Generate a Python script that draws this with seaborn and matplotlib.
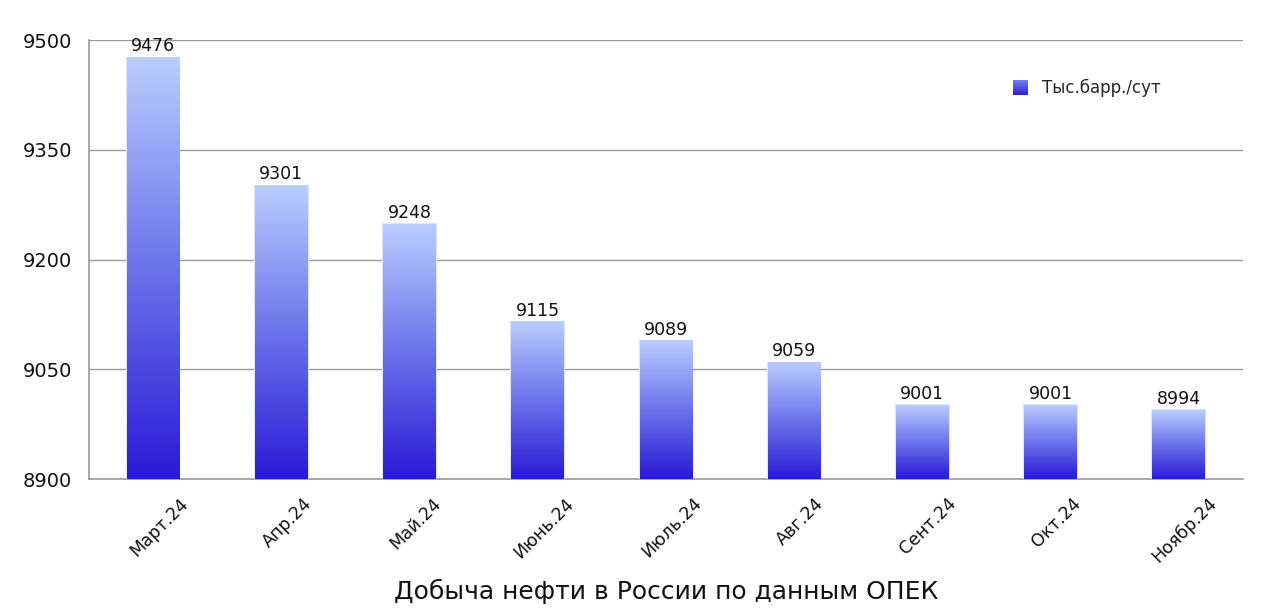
import numpy as np
import pandas as pd
import matplotlib
matplotlib.use("Agg")
import matplotlib.pyplot as plt
import matplotlib.transforms as mtransforms
import seaborn as sns
from matplotlib.colors import LinearSegmentedColormap
from matplotlib.patches import Patch, Rectangle
from matplotlib.legend_handler import HandlerBase

months = ["Март.24", "Апр.24", "Май.24", "Июнь.24", "Июль.24", "Авг.24", "Сент.24", "Окт.24", "Ноябр.24"]
values = [9476, 9301, 9248, 9115, 9089, 9059, 9001, 9001, 8994]
yticks = [8900, 9050, 9200, 9350, 9500]
series_name = "Тыс.барр./сут"
title = "Добыча нефти в России по данным ОПЕК"

sns.set_theme(style="white")
plt.rcParams['font.family'] = ['DejaVu Sans']

df = pd.DataFrame({"month": months, "value": values})

fig = plt.figure(figsize=(12.8, 6.16), dpi=100)
ax = fig.add_axes([0.0695, 0.2224, 0.9015, 0.7126])

YMIN, YMAX = 8900, 9500
sns.barplot(data=df, x="month", y="value", color="#6a6ee8", width=0.41, ax=ax,
            edgecolor="#dfe4f7", linewidth=1.5, zorder=3)

ax.set_ylim(YMIN, YMAX)
ax.set_xlim(-0.5, len(months) - 0.5)

cmap = LinearSegmentedColormap.from_list("g", ["#2a1ad6", "#6c72ea", "#bacdff"])
grad = np.linspace(0, 1, 256).reshape(-1, 1)
for p in ax.patches:
    x0, w = p.get_x(), p.get_width()
    top = p.get_y() + p.get_height()
    ax.imshow(grad, cmap=cmap, origin="lower", aspect="auto",
              extent=[x0, x0 + w, YMIN, top], zorder=4)

ax.set_xlim(-0.5, len(months) - 0.5)
ax.set_ylim(YMIN, YMAX)
ax.set_yticks(yticks)
ax.set_yticklabels([str(t) for t in yticks], fontsize=14, color="#111111")
ax.yaxis.grid(True, color="#9a9a9a", linewidth=1)
ax.set_axisbelow(True)

for i, v in enumerate(values):
    ax.text(i, v + 3, str(v), ha="center", va="bottom", fontsize=12.5, color="#111111", zorder=6)

ax.set_xlabel(title, fontsize=18, color="#111111", labelpad=9)
ax.set_ylabel("")
ax.set_xticks(range(len(months)))
ax.set_xticklabels(months, rotation=45, ha="center", fontsize=12.5, color="#111111")
ax.tick_params(axis="x", length=0, pad=11)
ax.tick_params(axis="y", length=0, pad=12)
ax.set_xticks(np.arange(-0.5, len(months), 1), minor=True)
ax.tick_params(axis="x", which="minor", length=4, color="#9a9a9a", width=1)
offset = mtransforms.ScaledTranslation(6 / 100, 0, fig.dpi_scale_trans)
for lbl in ax.get_xticklabels():
    lbl.set_transform(lbl.get_transform() + offset)

for s in ["top", "right"]:
    ax.spines[s].set_visible(False)
for s in ["left", "bottom"]:
    ax.spines[s].set_color("#9a9a9a")
    ax.spines[s].set_linewidth(1.2)


class GradientHandler(HandlerBase):
    def create_artists(self, legend, orig_handle, xdescent, ydescent, width, height, fontsize, trans):
        n = 20
        arts = []
        for k in range(n):
            r = Rectangle((-xdescent, -ydescent + height * (1 - (k + 1) / n)), width, height / n + 0.3,
                          facecolor=cmap(0.55 - 0.5 * k / (n - 1)), edgecolor="none", transform=trans)
            arts.append(r)
        return arts


handle = Patch(facecolor="#5a5ce6", edgecolor="none", label=series_name)
leg = ax.legend(handles=[handle], handler_map={Patch: GradientHandler()},
                loc="upper left", bbox_to_anchor=(0.788, 0.945), frameon=False, fontsize=12,
                handlelength=0.9, handleheight=0.9)

fig.savefig("out.png", dpi=100, facecolor="white")
